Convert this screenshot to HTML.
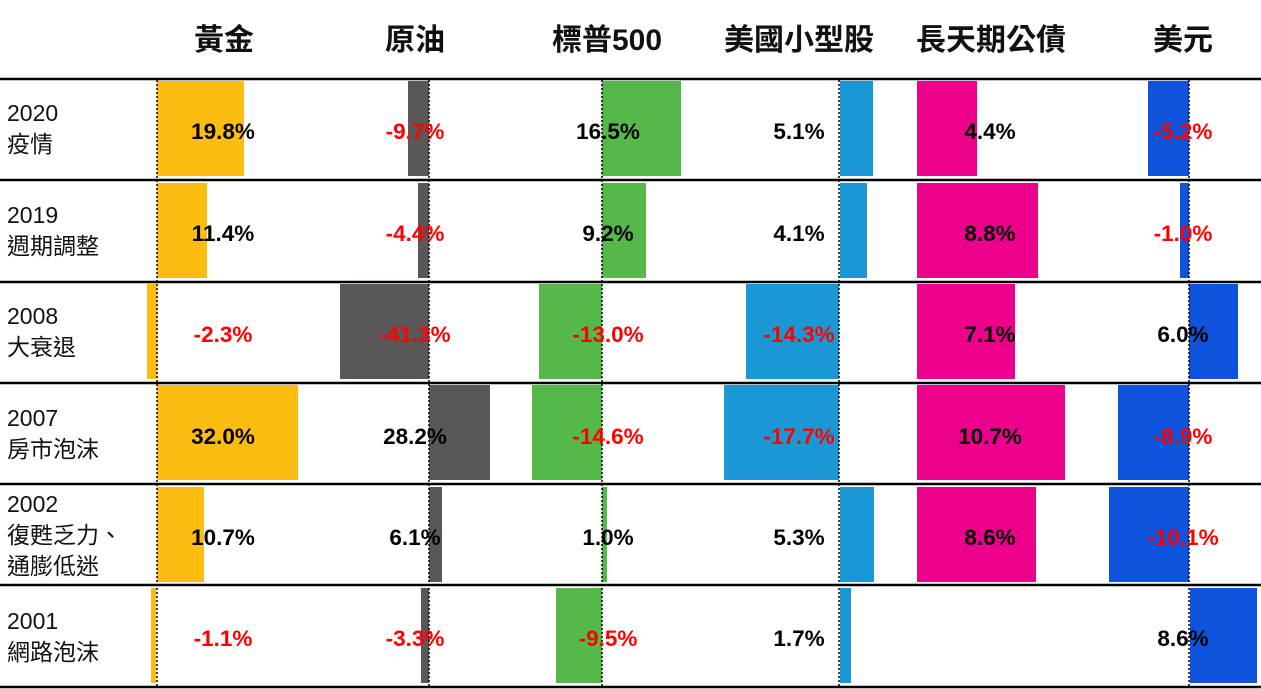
<!DOCTYPE html>
<html><head><meta charset="utf-8"><style>
body{margin:0;width:1261px;height:689px;overflow:hidden;background:#fff;font-family:"Liberation Sans","Noto Sans CJK TC",sans-serif;position:relative}
.h{position:absolute;top:19px;width:192px;margin-left:-96px;text-align:center;font-size:30px;font-weight:bold;line-height:44px;color:#111}
.v{position:absolute;width:160px;margin-left:-80px;text-align:center;font-size:22.5px;font-weight:bold;line-height:24px;color:#000}
.n{color:#f00}
.l{position:absolute;left:7px;font-size:23px;line-height:31px;color:#111;font-family:"Liberation Sans","Noto Sans CJK TC",sans-serif}
svg{position:absolute;left:0;top:0}
</style></head><body>
<svg width="1261" height="689">
<g fill="#FDBD10"><rect x="157" y="81" width="87" height="95"/><rect x="157" y="183" width="50" height="95"/><rect x="147" y="284" width="10" height="95"/><rect x="157" y="385" width="141" height="95"/><rect x="157" y="487" width="47" height="95"/><rect x="151" y="588" width="5" height="95"/></g>
<g fill="#5B5658"><rect x="408" y="81" width="21" height="95"/><rect x="418" y="183" width="11" height="95"/><rect x="340" y="284" width="89" height="95"/><rect x="429" y="385" width="61" height="95"/><rect x="429" y="487" width="13" height="95"/><rect x="421" y="588" width="8" height="95"/></g>
<g fill="#54B948"><rect x="602" y="81" width="79" height="95"/><rect x="602" y="183" width="44" height="95"/><rect x="539" y="284" width="63" height="95"/><rect x="532" y="385" width="70" height="95"/><rect x="602" y="487" width="5" height="95"/><rect x="556" y="588" width="46" height="95"/></g>
<g fill="#1A98D5"><rect x="840" y="81" width="33" height="95"/><rect x="840" y="183" width="27" height="95"/><rect x="746" y="284" width="93" height="95"/><rect x="724" y="385" width="115" height="95"/><rect x="840" y="487" width="34" height="95"/><rect x="840" y="588" width="11" height="95"/></g>
<g fill="#EC008C"><rect x="917" y="81" width="60" height="95"/><rect x="917" y="183" width="121" height="95"/><rect x="917" y="284" width="98" height="95"/><rect x="917" y="385" width="148" height="95"/><rect x="917" y="487" width="119" height="95"/></g>
<g fill="#0F52DB"><rect x="1148" y="81" width="41" height="95"/><rect x="1180" y="183" width="9" height="95"/><rect x="1189" y="284" width="49" height="95"/><rect x="1118" y="385" width="71" height="95"/><rect x="1109" y="487" width="80" height="95"/><rect x="1190" y="588" width="67" height="95"/></g>
<g stroke="#000" stroke-width="1.5" stroke-dasharray="2,2"><line x1="157" y1="80" x2="157" y2="688"/><line x1="429" y1="80" x2="429" y2="688"/><line x1="602" y1="80" x2="602" y2="688"/><line x1="839" y1="80" x2="839" y2="688"/><line x1="1189" y1="80" x2="1189" y2="688"/></g>
<g stroke="#000" stroke-width="2.5"><line x1="0" y1="79" x2="1261" y2="79"/><line x1="0" y1="180" x2="1261" y2="180"/><line x1="0" y1="282" x2="1261" y2="282"/><line x1="0" y1="383" x2="1261" y2="383"/><line x1="0" y1="484" x2="1261" y2="484"/><line x1="0" y1="585" x2="1261" y2="585"/><line x1="0" y1="687" x2="1261" y2="687"/></g>
</svg>
<div class="h" style="left:224px">黃金</div><div class="h" style="left:415px">原油</div><div class="h" style="left:607px">標普500</div><div class="h" style="left:799px">美國小型股</div><div class="h" style="left:991px">長天期公債</div><div class="h" style="left:1183px">美元</div>
<div class="l" style="top:98px">2020<br>疫情</div>
<div class="l" style="top:200px">2019<br>週期調整</div>
<div class="l" style="top:301px">2008<br>大衰退</div>
<div class="l" style="top:403px">2007<br>房市泡沫</div>
<div class="l" style="top:489px">2002<br>復甦乏力、<br>通膨低迷</div>
<div class="l" style="top:606px">2001<br>網路泡沫</div>
<div style="position:absolute;top:120px;left:0">
<div class="v" style="left:223px">19.8%</div><div class="v n" style="left:415px">-9.7%</div><div class="v" style="left:608px">16.5%</div><div class="v" style="left:799px">5.1%</div><div class="v" style="left:990px">4.4%</div><div class="v n" style="left:1183px">-5.2%</div></div>
<div style="position:absolute;top:222px;left:0">
<div class="v" style="left:223px">11.4%</div><div class="v n" style="left:415px">-4.4%</div><div class="v" style="left:608px">9.2%</div><div class="v" style="left:799px">4.1%</div><div class="v" style="left:990px">8.8%</div><div class="v n" style="left:1183px">-1.0%</div></div>
<div style="position:absolute;top:323px;left:0">
<div class="v n" style="left:223px">-2.3%</div><div class="v n" style="left:415px">-41.3%</div><div class="v n" style="left:608px">-13.0%</div><div class="v n" style="left:799px">-14.3%</div><div class="v" style="left:990px">7.1%</div><div class="v" style="left:1183px">6.0%</div></div>
<div style="position:absolute;top:425px;left:0">
<div class="v" style="left:223px">32.0%</div><div class="v" style="left:415px">28.2%</div><div class="v n" style="left:608px">-14.6%</div><div class="v n" style="left:799px">-17.7%</div><div class="v" style="left:990px">10.7%</div><div class="v n" style="left:1183px">-8.9%</div></div>
<div style="position:absolute;top:526px;left:0">
<div class="v" style="left:223px">10.7%</div><div class="v" style="left:415px">6.1%</div><div class="v" style="left:608px">1.0%</div><div class="v" style="left:799px">5.3%</div><div class="v" style="left:990px">8.6%</div><div class="v n" style="left:1183px">-10.1%</div></div>
<div style="position:absolute;top:627px;left:0">
<div class="v n" style="left:223px">-1.1%</div><div class="v n" style="left:415px">-3.3%</div><div class="v n" style="left:608px">-9.5%</div><div class="v" style="left:799px">1.7%</div><div class="v" style="left:1183px">8.6%</div></div>
</body></html>
